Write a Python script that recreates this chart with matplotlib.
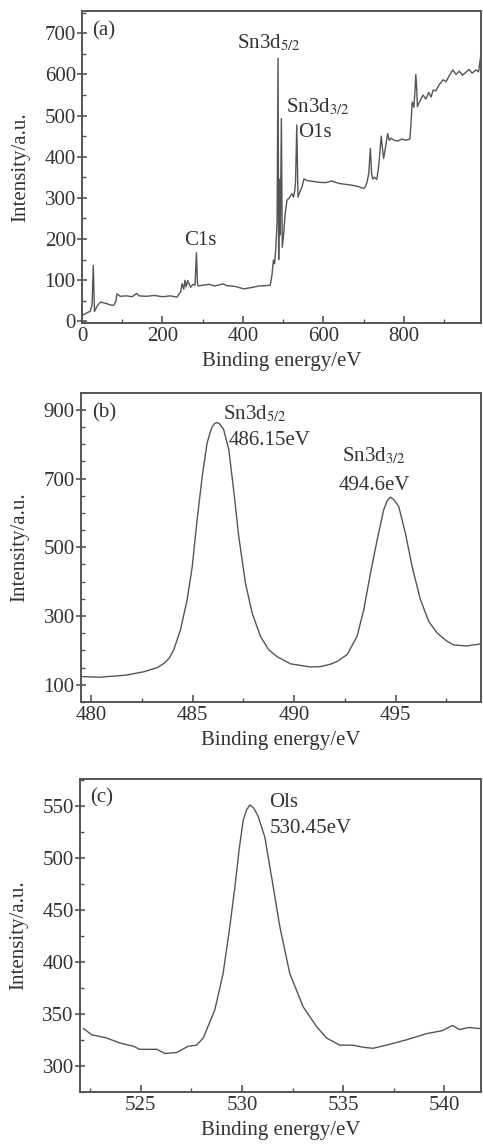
import matplotlib
matplotlib.use("Agg")
import matplotlib.pyplot as plt
from matplotlib.ticker import MultipleLocator

plt.rcParams['font.family'] = ['Liberation Serif', 'DejaVu Serif']
plt.rcParams['mathtext.fontset'] = 'stix'

GRAY = '#555555'
TXT = '#333333'
FS = 15

# (a) survey spectrum
survey_x = [1, 8, 14, 20, 25, 28, 31, 38, 46, 54, 62, 70, 79, 84, 87, 91, 95, 110, 125, 136, 142,
            160, 180, 200, 220, 236, 241, 245, 249, 253, 256, 259, 263, 267, 270, 276, 281, 284.5,
            287, 289, 300, 315, 330, 350, 360, 380, 403, 420, 440, 460, 468, 472, 476, 479, 482,
            485, 487.4, 489, 491, 493, 495.7, 498, 501.4, 505, 509.6, 515, 522, 526, 529, 531,
            534, 537, 542, 547, 552, 560, 575, 590, 605, 620, 640, 655, 670, 685, 700, 705, 709,
            713, 717, 720, 723, 727, 733, 738, 744, 747, 750, 755, 760, 764, 768, 774, 785, 795,
            805, 815, 818, 821, 825, 828, 830, 832, 834, 840, 848, 855, 862, 868, 873, 880, 888,
            898, 905, 912, 922, 930, 938, 946, 955, 962, 970, 980, 986, 992]
survey_y = [16, 18, 22, 24, 40, 136, 24, 38, 47, 45, 43, 40, 39, 48, 67, 64, 61, 62, 60, 68, 62,
            61, 63, 60, 62, 59, 66, 71, 92, 78, 100, 84, 99, 90, 83, 90, 88, 167,
            92, 86, 88, 90, 86, 91, 87, 85, 79, 82, 86, 87, 88, 110, 149, 140, 180,
            240, 639, 150, 345, 210, 493, 180, 213, 260, 294, 300, 310, 302, 318, 340,
            477, 302, 315, 327, 346, 342, 340, 338, 337, 341, 335, 333, 331, 328, 323, 328, 339,
            360, 420, 360, 346, 350, 345, 380, 450, 420, 396, 425, 456, 440, 445, 441, 438, 443,
            440, 443, 480, 533, 520, 560, 600, 570, 522, 535, 550, 540, 556, 545, 562, 560, 575,
            587, 582, 595, 611, 600, 608, 598, 606, 612, 603, 611, 606, 650]

# (b) Sn 3d
sn_x = [479.57, 480.4, 481.7, 482.6, 483.25, 483.58, 483.85, 484.07, 484.4, 484.73, 484.98,
        485.22, 485.47, 485.71, 485.85, 485.96, 486.08, 486.2, 486.35, 486.53, 486.78, 487.02,
        487.27, 487.6, 487.93, 488.34, 488.75, 489.16, 489.82, 490.8, 491.3, 491.79, 492.12,
        492.61, 493.1, 493.43, 493.76, 494.09, 494.41, 494.58, 494.74, 494.92, 495.15, 495.48,
        495.81, 496.22, 496.63, 497.04, 497.5, 497.86, 498.5, 499.18]
sn_y = [124, 122, 128, 138, 150, 162, 178, 202, 260, 348, 444,
        580, 706, 803, 832, 850, 860, 863, 858, 842, 784, 667,
        532, 396, 309, 241, 202, 182, 161, 152, 153, 160, 168,
        188, 241, 319, 425, 522, 609, 635, 646, 638, 619, 541,
        444, 348, 284, 251, 228, 216, 213, 219]

# (c) O 1s
o_x = [522.17, 522.58, 523.3, 523.98, 524.64, 524.95, 525.8, 526.2, 526.78, 527.35, 527.76,
       528.09, 528.66, 529.07, 529.4, 529.65, 529.86, 530.06, 530.22, 530.39, 530.58, 530.8,
       531.13, 531.46, 531.87, 532.36, 533.02, 533.68, 534.17, 534.83, 535.48, 535.98, 536.47,
       537.13, 538.1, 539.1, 539.9, 540.4, 540.74, 541.2, 541.73]
o_y = [336, 330, 327, 322, 319, 316, 316, 312, 313, 319, 320,
       327, 354, 389, 434, 472, 508, 536, 546, 551, 548, 540,
       520, 482, 434, 389, 357, 338, 327, 320, 320, 318, 317,
       320, 325, 331, 334, 339, 335, 337, 336]


def style(ax, xlim, ylim, xmaj, xmin, ymaj, ymin, yoff=0):
    ax.set_xlim(*xlim)
    ax.set_ylim(*ylim)
    ax.xaxis.set_major_locator(MultipleLocator(xmaj))
    ax.xaxis.set_minor_locator(MultipleLocator(xmin))
    ax.yaxis.set_major_locator(MultipleLocator(ymaj, offset=yoff))
    ax.yaxis.set_minor_locator(MultipleLocator(ymin))
    for s in ax.spines.values():
        s.set_color(GRAY)
        s.set_linewidth(1.4)
    ax.tick_params(axis='x', which='major', direction='in', length=5, width=1.2, colors=GRAY,
                   labelsize=FS, labelcolor=TXT, pad=3)
    ax.tick_params(axis='x', which='minor', direction='in', length=3, width=1.0, colors=GRAY)
    ax.tick_params(axis='y', which='major', direction='inout', length=7, width=1.2, colors=GRAY,
                   labelsize=FS, labelcolor=TXT, pad=1)
    ax.tick_params(axis='y', which='minor', direction='in', length=3, width=1.0, colors=GRAY)
    ax.set_xlabel('Binding energy/eV', fontsize=FS, color=TXT, labelpad=4)
    ax.set_ylabel('Intensity/a.u.', fontsize=FS, color=TXT, labelpad=10)


fig = plt.figure(figsize=(4.83, 11.48), dpi=100)

ax1 = fig.add_axes([0.1698, 0.7186, 0.826, 0.2718])
ax1.plot(survey_x, survey_y, color=GRAY, lw=1.0)
style(ax1, (0, 992), (-4, 754), 200, 100, 100, 50)
ax1.text(26, 728, '(a)', fontsize=FS, color=TXT, va='top')
ax1.text(386, 664, r'Sn3d$_{\mathrm{5/2}}$', fontsize=FS, color=TXT)
ax1.text(506, 509, r'Sn3d$_{\mathrm{3/2}}$', fontsize=FS, color=TXT)
ax1.text(538, 448, 'O1s', fontsize=FS, color=TXT)
ax1.text(254, 185, 'C1s', fontsize=FS, color=TXT)

ax2 = fig.add_axes([0.1677, 0.3885, 0.828, 0.2692])
ax2.plot(sn_x, sn_y, color=GRAY, lw=1.0)
style(ax2, (479.5, 499.2), (50, 949), 5, 2.5, 200, 50, yoff=100)
ax2.text(480.05, 920, '(b)', fontsize=FS, color=TXT, va='top')
ax2.text(486.5, 871, r'Sn3d$_{\mathrm{5/2}}$', fontsize=FS, color=TXT)
ax2.text(486.76, 798, '486.15eV', fontsize=FS, color=TXT)
ax2.text(492.36, 750, r'Sn3d$_{\mathrm{3/2}}$', fontsize=FS, color=TXT)
ax2.text(492.2, 667, '494.6eV', fontsize=FS, color=TXT)

ax3 = fig.add_axes([0.1656, 0.0488, 0.83, 0.2727])
ax3.plot(o_x, o_y, color=GRAY, lw=1.0)
style(ax3, (522.0, 541.8), (275, 576), 5, 2.5, 50, 25)
ax3.text(522.5, 567, '(c)', fontsize=FS, color=TXT, va='top')
ax3.text(531.35, 549, 'Ols', fontsize=FS, color=TXT)
ax3.text(531.35, 524, '530.45eV', fontsize=FS, color=TXT)

fig.savefig('out.png', dpi=100)
